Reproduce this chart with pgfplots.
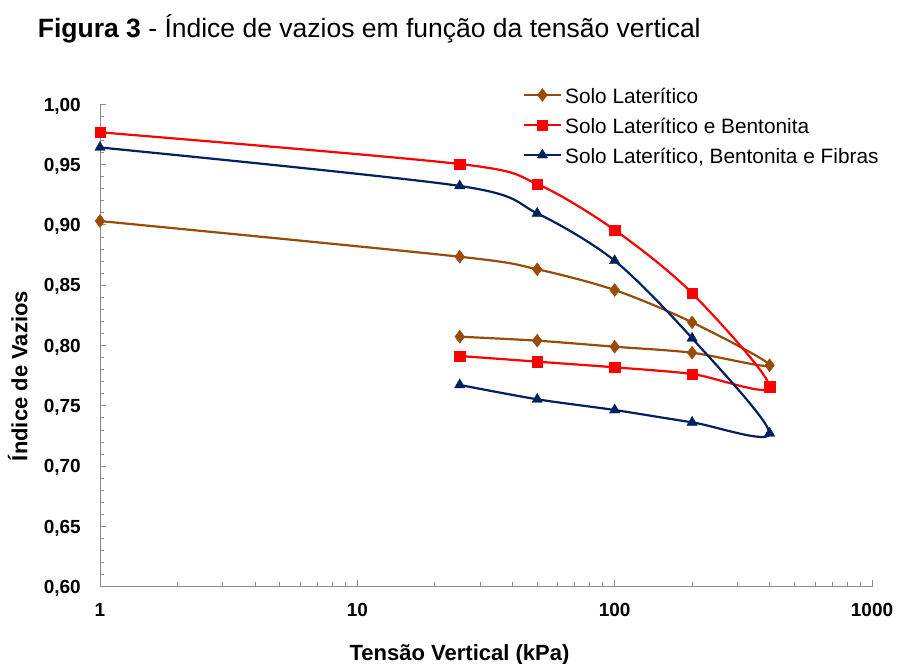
\documentclass[border=0pt]{standalone}
\usepackage{pgfplots}
\pgfplotsset{compat=1.18}
\usepackage{fontspec}
\setmainfont{Liberation Sans}
\definecolor{cbrown}{RGB}{153,76,10}
\definecolor{cred}{RGB}{255,0,0}
\definecolor{cblue}{RGB}{0,32,96}
\definecolor{axgray}{RGB}{140,140,140}
\begin{document}
\begin{tikzpicture}
\path[use as bounding box] (0,0) rectangle (898bp,664bp);
\node[anchor=base west, inner sep=0pt, font=\fontsize{26.5bp}{30bp}\selectfont] at (37.7bp,626.3bp) {\textbf{Figura 3} - Índice de vazios em função da tensão vertical};
\begin{axis}[
  at={(100bp,77.3bp)}, anchor=south west,
  scale only axis, width=772bp, height=482.4bp,
  xmode=log, xmin=1, xmax=1000, ymin=0.6, ymax=1.0,
  axis x line=bottom, axis y line=left,
  axis line style={-, draw=axgray, line width=1bp},
  tick align=inside, major tick length=6.5bp, minor tick length=4.5bp,
  every tick/.style={axgray, line width=0.8bp},
  xtick={1,10,100,1000}, xticklabels={1,10,100,1000},
  minor xtick={2,3,4,5,6,7,8,9,20,30,40,50,60,70,80,90,200,300,400,500,600,700,800,900},
  ytick={0.60,0.65,0.70,0.75,0.80,0.85,0.90,0.95,1.00},
  yticklabels={{0,60},{0,65},{0,70},{0,75},{0,80},{0,85},{0,90},{0,95},{1,00}},
  minor y tick num=4,
  ticklabel style={font=\fontsize{19bp}{22bp}\selectfont\bfseries, text=black},
  xticklabel style={anchor=base, inner sep=0pt, yshift=-30.2bp},
  yticklabel style={anchor=base east, inner sep=0pt, xshift=-19bp, yshift=-6.8bp},
  every axis x label/.style={at={(axis description cs:0.4657,-0.1523)}, anchor=base},
  every axis y label/.style={at={(axis description cs:-0.0942,0.4367)}, anchor=base, rotate=90},
  label style={font=\fontsize{22bp}{26bp}\selectfont\bfseries},
  xlabel={Tensão Vertical (kPa)},
  ylabel={Índice de Vazios},
  legend cell align=left,
  legend style={draw=none, fill=none, inner sep=0pt, outer sep=0pt,
    at={(axis description cs:0.5475,1.0398)}, anchor=north west,
    font=\fontsize{20.8bp}{24bp}\selectfont, row sep=10.2bp, column sep=3bp,
    nodes={inner sep=0pt, text height=18.2bp, text depth=1.6bp}},
  legend image code/.code={\draw[mark repeat=2,mark phase=2] plot coordinates {(0bp,0bp) (18.65bp,0bp) (37.3bp,0bp)};},
  every axis plot/.append style={smooth, line width=2.2bp},
]
\addplot[cbrown, mark=diamond*, mark size=6.5bp, mark options={solid, line width=0.4bp, fill=cbrown}] coordinates {
(1,0.9032) (25,0.8736) (50,0.8632) (100,0.8460) (200,0.8192) (400,0.7836)
(200,0.7940) (100,0.7990) (50,0.8040) (25,0.8073)};
\addlegendentry{Solo Laterítico}
\addplot[cred, mark=square*, mark size=5.2bp, mark options={solid, line width=0.4bp, fill=cred}] coordinates {
(1,0.9768) (25,0.9505) (50,0.9339) (100,0.8958) (200,0.8433) (400,0.7658)
(200,0.7764) (100,0.7819) (50,0.7866) (25,0.7913)};
\addlegendentry{Solo Laterítico e Bentonita}
\addplot[cblue, mark=triangle*, mark size=6bp, mark options={solid, line width=0.4bp, fill=cblue}] coordinates {
(1,0.9642) (25,0.9323) (50,0.9096) (100,0.8703) (200,0.8060) (400,0.7272)
(200,0.7363) (100,0.7465) (50,0.7554) (25,0.7673)};
\addlegendentry{Solo Laterítico, Bentonita e Fibras}
\end{axis}
\end{tikzpicture}
\end{document}
